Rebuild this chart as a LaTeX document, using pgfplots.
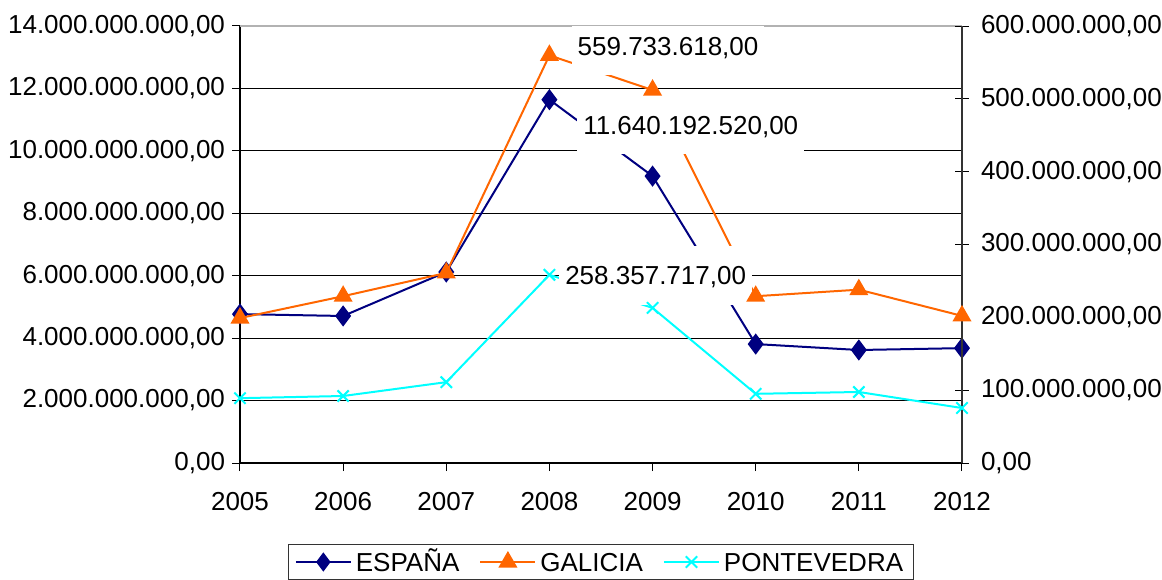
\documentclass[border=0pt]{standalone}
\usepackage{pgfplots}
\pgfplotsset{compat=1.18}
\usepackage{fontspec}
\setmainfont{Liberation Sans}
\definecolor{espana}{HTML}{000080}
\definecolor{galicia}{HTML}{FF6600}
\definecolor{ponte}{HTML}{00FFFF}
\newcommand{\fs}{\fontsize{13}{15}\selectfont}
\tikzset{lab/.style={fill=white, inner xsep=3pt, inner ysep=10pt, text height=9.5pt, text depth=0pt, font=\fs}}
\begin{document}
\begin{tikzpicture}
\pgfplotsset{
  base/.style={
    width=361pt, height=218.5pt, scale only axis,
    at={(0,0)}, anchor=south west,
    xmin=2005, xmax=2012,
    scaled x ticks=false, scaled y ticks=false,
    tick label style={font=\fs},
    /pgf/number format/assume math mode=true,
    tick style={black, line width=0.5pt},
  },
  legend image code/.code={\draw[mark repeat=2,mark phase=2] plot coordinates {(0pt,0pt) (13.75pt,0pt) (27.5pt,0pt)};},
}
\begin{axis}[base, name=ax,
  axis x line*=bottom, axis y line*=left,
  axis line style={black, line width=0.6pt},
  ymin=0, ymax=14000000000,
  ytick={0,2000000000,4000000000,6000000000,8000000000,10000000000,12000000000,14000000000},
  yticklabels={{0,00},{2.000.000.000,00},{4.000.000.000,00},{6.000.000.000,00},{8.000.000.000,00},{10.000.000.000,00},{12.000.000.000,00},{14.000.000.000,00}},
  xtick={2005,2006,2007,2008,2009,2010,2011,2012},
  xticklabels={2005,2006,2007,2008,2009,2010,2011,2012},
  tick align=outside, major tick length=4pt,
  ymajorgrids, grid style={black, line width=0.5pt},
  xticklabel style={yshift=-7pt},
]
\addplot[espana, line width=1pt, mark=diamond*, mark size=4.5pt, mark options={solid, fill=espana}]
coordinates {(2005,4770000000) (2006,4710000000) (2007,6120000000) (2008,11640192520) (2009,9190000000) (2010,3810000000) (2011,3620000000) (2012,3680000000)};
\draw[gray!60, line width=1pt] (rel axis cs:0,1) -- (rel axis cs:1,1);
\end{axis}
\begin{axis}[base,
  axis x line=none, axis y line*=right,
  axis line style={black!80, line width=0.6pt},
  ymin=0, ymax=600000000,
  ytick={0,100000000,200000000,300000000,400000000,500000000,600000000},
  yticklabels={{0,00},{100.000.000,00},{200.000.000,00},{300.000.000,00},{400.000.000,00},{500.000.000,00},{600.000.000,00}},
  tick align=center, major tick length=7pt,
  yticklabel style={xshift=2.5pt},
  legend style={at={(0.5,-0.1854)}, anchor=north, legend columns=3, draw=black!80, line width=0.5pt, font=\fs,
    inner ysep=2pt, nodes={text height=9.5pt, text depth=0pt},
    /tikz/every even column/.append style={column sep=8pt}},
]
\addlegendimage{espana, line width=1pt, mark=diamond*, mark size=4pt, mark options={solid, fill=espana}}
\addlegendentry{ESPAÑA}
\addplot[galicia, line width=1pt, mark=triangle*, mark size=4.5pt, mark options={solid, fill=galicia}]
coordinates {(2005,199000000) (2006,229000000) (2007,261000000) (2008,559733618) (2009,512000000) (2010,229000000) (2011,238000000) (2012,202000000)};
\addlegendentry{GALICIA}
\addplot[ponte, line width=1pt, mark=x, mark size=4pt, mark options={solid, line width=1pt}]
coordinates {(2005,89000000) (2006,92000000) (2007,111000000) (2008,258357717) (2009,213000000) (2010,95000000) (2011,97500000) (2012,75500000)};
\addlegendentry{PONTEVEDRA}
\node[lab] at (axis cs:2009.15,572600000) {559.733.618,00};
\node[lab] at (axis cs:2009.37,464100000) {11.640.192.520,00};
\node[lab] at (axis cs:2009.03,258100000) {258.357.717,00};
\end{axis}
\pgfresetboundingbox
\path[use as bounding box] ([xshift=-120pt,yshift=-58pt]ax.south west) rectangle ([xshift=461pt,yshift=231.5pt]ax.south west);
\end{tikzpicture}
\end{document}
